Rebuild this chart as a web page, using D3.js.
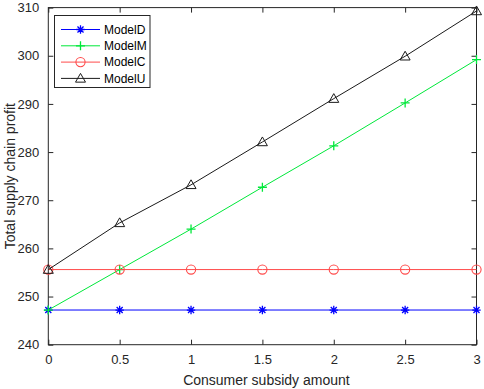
<!DOCTYPE html>
<html><head><meta charset="utf-8">
<script src="https://cdn.jsdelivr.net/npm/d3@7"></script>
<style>
html,body{margin:0;padding:0;background:#fff;}
svg{display:block;font-family:"Liberation Sans",Arial,Helvetica,sans-serif;}
</style></head>
<body>
<svg id="chart" width="484" height="389"></svg>
<script>
const subsidy = [0, 0.5, 1, 1.5, 2, 2.5, 3];
const modelD = [247.2, 247.2, 247.2, 247.2, 247.2, 247.2, 247.2];
const modelM = [247.2, 255.6, 264.0, 272.7, 281.3, 290.2, 299.2];
const modelC = [255.6, 255.6, 255.6, 255.6, 255.6, 255.6, 255.6];
const modelU = [255.6, 265.3, 273.2, 282.1, 291.1, 299.9, 309.3];
const seriesNames = ["ModelD", "ModelM", "ModelC", "ModelU"];
const xTicks = [0, 0.5, 1, 1.5, 2, 2.5, 3];
const yTicks = [240, 250, 260, 270, 280, 290, 300, 310];

const series = [
  {name: seriesNames[0], values: modelD, color: "#0000ff", marker: "star"},
  {name: seriesNames[1], values: modelM, color: "#00e83a", marker: "plus"},
  {name: seriesNames[2], values: modelC, color: "#ff4a4a", marker: "circle"},
  {name: seriesNames[3], values: modelU, color: "#1a1a1a", marker: "tri"}
];

const svg = d3.select("#chart");
const L = 48.3, R = 476.5, T = 7.6, B = 344.7;
const x = d3.scaleLinear().domain([0, 3]).range([L, R]);
const y = d3.scaleLinear().domain([240, 310]).range([B, T]);
const axisColor = "#262626";

// box
svg.append("rect").attr("x", L).attr("y", T).attr("width", R - L).attr("height", B - T)
  .attr("fill", "#fff").attr("stroke", axisColor).attr("stroke-width", 1);

function styleAxis(g) {
  g.select(".domain").remove();
  g.selectAll("line").attr("stroke", axisColor);
  g.selectAll("text").attr("fill", axisColor).style("font-size", "13px")
    .style("font-family", "'Liberation Sans',Arial,Helvetica,sans-serif");
}
const fmt = d => String(d);
svg.append("g").attr("transform", `translate(0,${B})`)
  .call(d3.axisBottom(x).tickValues(xTicks).tickFormat(fmt).tickSizeInner(-5).tickSizeOuter(0).tickPadding(10))
  .call(styleAxis);
svg.append("g").attr("transform", `translate(0,${T})`)
  .call(d3.axisTop(x).tickValues(xTicks).tickFormat("").tickSizeInner(-5).tickSizeOuter(0))
  .call(styleAxis);
svg.append("g").attr("transform", `translate(${L},0)`)
  .call(d3.axisLeft(y).tickValues(yTicks).tickFormat(fmt).tickSizeInner(-5).tickSizeOuter(0).tickPadding(9))
  .call(styleAxis);
svg.append("g").attr("transform", `translate(${R},0)`)
  .call(d3.axisRight(y).tickValues(yTicks).tickFormat("").tickSizeInner(-5).tickSizeOuter(0))
  .call(styleAxis);

// labels
svg.append("text").attr("x", (L + R) / 2 + 4).attr("y", 385)
  .attr("text-anchor", "middle").attr("fill", axisColor).style("font-size", "14px")
  .text("Consumer subsidy amount");
svg.append("text").attr("transform", `translate(15,${(T + B) / 2}) rotate(-90)`)
  .attr("text-anchor", "middle").attr("fill", axisColor).style("font-size", "14px")
  .text("Total supply chain profit");

function drawMarker(g, type, cx, cy, color) {
  if (type === "star") {
    const s = 4.2, d = s * 0.72;
    g.append("path").attr("d",
      `M${cx - s},${cy}L${cx + s},${cy}M${cx},${cy - s}L${cx},${cy + s}` +
      `M${cx - d},${cy - d}L${cx + d},${cy + d}M${cx - d},${cy + d}L${cx + d},${cy - d}`)
      .attr("stroke", color).attr("stroke-width", 1.3).attr("fill", "none");
  } else if (type === "plus") {
    const s = 4.5;
    g.append("path").attr("d", `M${cx - s},${cy}L${cx + s},${cy}M${cx},${cy - s}L${cx},${cy + s}`)
      .attr("stroke", color).attr("stroke-width", 1.3).attr("fill", "none");
  } else if (type === "circle") {
    g.append("circle").attr("cx", cx).attr("cy", cy).attr("r", 4.6)
      .attr("stroke", color).attr("stroke-width", 1.1).attr("fill", "none");
  } else if (type === "tri") {
    const s = 5;
    g.append("path").attr("d", `M${cx},${cy - s}L${cx + s},${cy + s * 0.75}L${cx - s},${cy + s * 0.75}Z`)
      .attr("stroke", color).attr("stroke-width", 1).attr("fill", "none");
  }
}

const line = d3.line().x((d, i) => x(subsidy[i])).y(d => y(d));
series.forEach(s => {
  const g = svg.append("g");
  g.append("path").datum(s.values).attr("d", line)
    .attr("fill", "none").attr("stroke", s.color).attr("stroke-width", 1);
  s.values.forEach((v, i) => drawMarker(g, s.marker, x(subsidy[i]), y(v), s.color));
});

// legend
const lg = svg.append("g");
lg.append("rect").attr("x", 54.5).attr("y", 15.5).attr("width", 95.5).attr("height", 72)
  .attr("fill", "#fff").attr("stroke", axisColor).attr("stroke-width", 1);
series.forEach((s, i) => {
  const ly = 29.5 + i * 16.3;
  lg.append("line").attr("x1", 61).attr("x2", 100).attr("y1", ly).attr("y2", ly)
    .attr("stroke", s.color).attr("stroke-width", 1);
  drawMarker(lg, s.marker, 80.5, ly, s.color);
  lg.append("text").attr("x", 104).attr("y", ly + 4.3).attr("fill", "#000")
    .style("font-size", "12px").text(s.name);
});
</script>
</body></html>
